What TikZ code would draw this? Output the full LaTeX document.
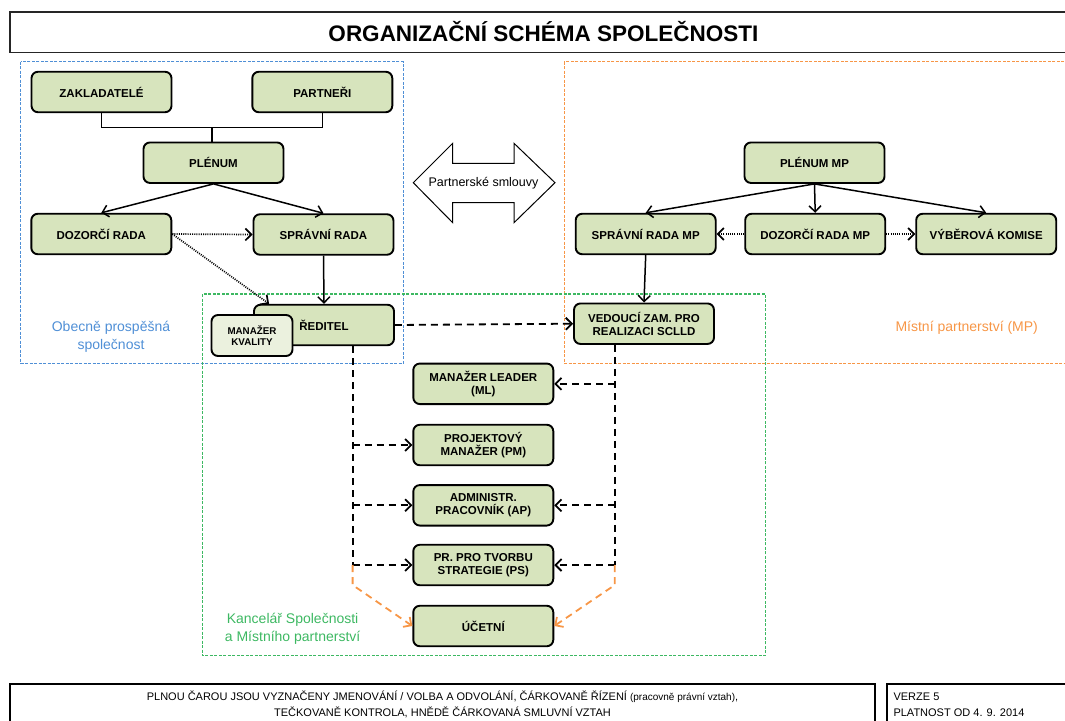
\documentclass[tikz,border=0pt]{standalone}
\usepackage{fontspec}
\setmainfont{Liberation Sans}
\usetikzlibrary{arrows.meta}

\definecolor{boxgreen}{HTML}{D7E4BD}
\definecolor{palegreen}{HTML}{EBF1DE}
\definecolor{opsblue}{HTML}{4F8FD6}
\definecolor{mporange}{HTML}{F79646}
\definecolor{officegreen}{HTML}{3DB862}

\begin{document}
\begin{tikzpicture}[
  x = 1pt, y = -1pt,
  > = {Straight Barb[length = 6pt, width = 12pt]},
  box/.style = {draw, line width = 1.9pt, rounded corners = 6.5pt, fill = boxgreen,
                minimum width = 140pt, minimum height = 40.5pt, inner sep = 2pt,
                align = center, font = \fontsize{11.5}{12.6}\selectfont\bfseries},
  quality/.style = {fill = palegreen, minimum width = 81pt, minimum height = 41pt,
                    font = \fontsize{9.8}{11.5}\selectfont\bfseries},
  plain/.style = {line width = 1.5pt},
  ctrl/.style = {line width = 1.8pt, dash pattern = on 7pt off 5pt},
  check/.style = {line width = 1.7pt, dash pattern = on 1pt off 1.2pt},
  contract/.style = {ctrl, mporange},
  region/.style = {line width = 1.1pt, dash pattern = on 3pt off 1.5pt},
  label/.style = {align = center, font = \fontsize{14}{18.5}\selectfont},
  ]
  \useasboundingbox (0,0) rectangle (1065,720);

  \draw[line width = 1.6pt, black!85] (10,11.7) rectangle (1075,52.3);
  \node[font = \fontsize{22.5}{26}\selectfont\bfseries] (title) at (543.5,32)
    {ORGANIZAČNÍ SCHÉMA SPOLEČNOSTI};

  \draw[region, opsblue] (20.7,61.7) rectangle (403.4,363.3);
  \draw[region, mporange] (564.2,61.7) rectangle (1075,363.3);
  \draw[region, officegreen] (202.5,294) rectangle (765.4,655.7);

  \node[box] (zakl) at (101.5,92) {ZAKLADATELÉ};
  \node[box] (partneri) at (322.3,92) {PARTNEŘI};
  \node[box] (plenum) at (213.5,162.7) {PLÉNUM};
  \node[box] (dozorci) at (101.3,234) {DOZORČÍ RADA};
  \node[box] (spravni) at (323.5,234.5) {SPRÁVNÍ RADA};
  \node[box] (reditel) at (324,325) {ŘEDITEL};
  \node[box, quality] (kvalita) at (252,335.5) {MANAŽER\\KVALITY};

  \node[box] (plenummp) at (814.5,162.7) {PLÉNUM MP};
  \node[box] (spravnimp) at (645.7,234) {SPRÁVNÍ RADA MP};
  \node[box] (dozorcimp) at (815.2,234) {DOZORČÍ RADA MP};
  \node[box] (vyberova) at (986.2,234) {VÝBĚROVÁ KOMISE};
  \node[box] (vedouci) at (644,323.7) {VEDOUCÍ ZAM. PRO\\REALIZACI SCLLD};

  \node[box] (ml) at (483.3,383.8) {MANAŽER LEADER\\(ML)};
  \node[box] (pm) at (483.3,445) {PROJEKTOVÝ\\MANAŽER (PM)};
  \node[box] (ap) at (483.3,505.3) {ADMINISTR.\\PRACOVNÍK (AP)};
  \node[box] (ps) at (483.3,565) {PR. PRO TVORBU\\STRATEGIE (PS)};
  \node[box] (ucetni) at (483.3,626) {ÚČETNÍ};

  \draw[line width = 1pt, fill = white] (413.3,182.7) -- (452.7,143.3) -- (452.7,163.3)
    -- (514,163.3) -- (514,143.3) -- (555,182.7) -- (514,222.7) -- (514,202.7)
    -- (452.7,202.7) -- (452.7,222.7) -- cycle;
  \node[font = \fontsize{12.5}{14}\selectfont] (smlouvy) at (483.5,182.7) {Partnerské smlouvy};

  \node[label, text = opsblue] (opslabel) at (111,337) {Obecně prospěšná\\společnost};
  \node[label, text = mporange] (mplabel) at (966.7,327.3) {Místní partnerství (MP)};
  \node[label, text = officegreen] (kanclabel) at (292.6,629) {Kancelář Společnosti\\a Místního partnerství};

  \coordinate (join) at (211.8,127.3);
  \draw[plain] (zakl.south) |- (join) -| (partneri.south);
  \draw[plain] (join) -- (join |- plenum.north);
  \draw[plain, ->] (plenum.south) -- (dozorci.north);
  \draw[plain, ->] (plenum.south) -- (spravni.north);
  \draw[plain, ->] (spravni.south) -- (reditel.north);
  \draw[check, ->] (dozorci.east) -- (spravni.west);
  \draw[check, ->] (dozorci.east) -- ([xshift = 16pt]reditel.north west);

  \draw[plain, ->] (plenummp.south) -- (spravnimp.north);
  \draw[plain, ->] (plenummp.south) -- (dozorcimp.north);
  \draw[plain, ->] (plenummp.south) -- (vyberova.north);
  \draw[check, ->] (dozorcimp.west) -- (spravnimp.east);
  \draw[check, ->] (dozorcimp.east) -- (vyberova.west);
  \draw[plain, ->] (spravnimp.south) -- (vedouci.north);

  \draw[ctrl, ->] (reditel.east) -- (vedouci.west);
  \coordinate (lbus) at (352.6,565);
  \coordinate (rbus) at (614.8,565);
  \draw[ctrl] (reditel.south -| lbus) -- (lbus);
  \draw[ctrl, ->] (pm.west -| lbus) -- (pm.west);
  \draw[ctrl, ->] (ap.west -| lbus) -- (ap.west);
  \draw[ctrl, ->] (lbus) -- (ps.west);
  \draw[ctrl] (vedouci.south -| rbus) -- (rbus);
  \draw[ctrl, ->] (ml.east -| rbus) -- (ml.east);
  \draw[ctrl, ->] (ap.east -| rbus) -- (ap.east);
  \draw[ctrl, ->] (rbus) -- (ps.east);
  \draw[contract, ->] (lbus) -- ++(0,20) -- (ucetni.west);
  \draw[contract, ->] (rbus) -- ++(0,20) -- (ucetni.east);

  \draw[line width = 1.5pt] (10,684) rectangle (875,735);
  \draw[line width = 1.5pt] (887,684) rectangle (1075,735);
  \node[align = center, font = \fontsize{11}{15.6}\selectfont] (legend) at (442.5,704.5)
    {PLNOU ČAROU JSOU VYZNAČENY JMENOVÁNÍ / VOLBA A ODVOLÁNÍ, ČÁRKOVANĚ ŘÍZENÍ {\fontsize{10}{15.6}\selectfont(pracovně právní vztah)},\\
     TEČKOVANĚ KONTROLA, HNĚDĚ ČÁRKOVANÁ SMLUVNÍ VZTAH};
  \node[align = left, anchor = west, font = \fontsize{11}{15.6}\selectfont] (verze) at (890,704.5)
    {VERZE 5\\PLATNOST OD 4. 9. 2014};
\end{tikzpicture}
\end{document}
